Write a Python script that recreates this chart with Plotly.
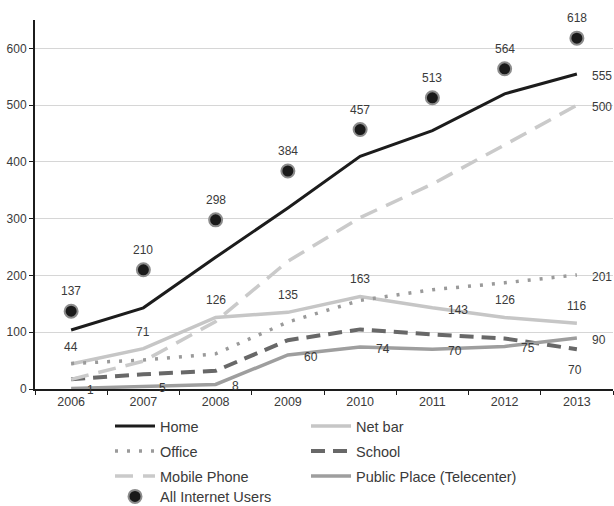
import plotly.graph_objects as go

# ---------------- data ----------------
years = ["2006", "2007", "2008", "2009", "2010", "2011", "2012", "2013"]
home = [104, 143, 232, 319, 410, 455, 520, 555]
net_bar = [44, 71, 126, 135, 163, 143, 126, 116]
office = [45, 51, 62, 118, 156, 175, 187, 201]
school = [17, 26, 32, 86, 105, 96, 89, 70]
mobile_phone = [17, 49, 119, 225, 302, 361, 430, 500]
public_place = [1, 5, 8, 60, 74, 70, 75, 90]
all_users = [137, 210, 298, 384, 457, 513, 564, 618]
y_ticks = [0, 100, 200, 300, 400, 500, 600]

FONT = "Liberation Sans, Arial, sans-serif"
TXT = "#3a3a3a"

fig = go.Figure()

def add_line(name, values, color, width, dash, legend, left_col):
    kw = dict(legendwidth=141) if left_col else {}
    fig.add_trace(go.Scatter(
        x=years, y=values, name=name, mode="lines",
        line=dict(color=color, width=width, dash=dash),
        legend=legend, hoverinfo="skip", **kw))

add_line("Home", home, "#1c1c1c", 3, "solid", "legend", True)
add_line("Net bar", net_bar, "#c6c6c6", 3.5, "solid", "legend", False)
add_line("Office", office, "#9a9a9a", 3.5, "3px,9px", "legend2", True)
add_line("School", school, "#686868", 4, "14px,8px", "legend2", False)
add_line("Mobile Phone", mobile_phone, "#cacaca", 3.5, "18px,10px", "legend3", True)
add_line("Public Place (Telecenter)", public_place, "#9e9e9e", 3.5, "solid", "legend3", False)

fig.add_trace(go.Scatter(
    x=years, y=all_users, name="All Internet Users", mode="markers",
    marker=dict(color="#1a1a1a", size=13, line=dict(color="#8c8c8c", width=2)),
    legend="legend4", hoverinfo="skip"))

# ---------------- data labels ----------------
def label(series, i, kind):
    v = series[i]
    kw = dict(x=i, y=v, text=str(v), showarrow=False,
              font=dict(family=FONT, size=12, color=TXT))
    if kind == "top":
        kw.update(yshift=20, xanchor="center", yanchor="middle")
    elif kind == "top_low":
        kw.update(yshift=17, xanchor="center", yanchor="middle")
    elif kind == "right":
        kw.update(xshift=14, yshift=-2, xanchor="left", yanchor="middle")
    elif kind == "right_end":
        kw.update(xshift=13, yshift=-2, xanchor="left", yanchor="middle")
    elif kind == "below":
        kw.update(yshift=-21, xshift=-2, xanchor="center", yanchor="middle")
    fig.add_annotation(**kw)

last = len(years) - 1
for i in range(len(years)):
    label(all_users, i, "top")
    label(public_place, i, "right_end" if i == last else "right")
    label(net_bar, i, "right" if years[i] == "2011" else "top_low")
label(home, last, "right_end")
label(mobile_phone, last, "right_end")
label(office, last, "right_end")
label(school, last, "below")

# ---------------- layout ----------------
W, H = 614, 506

def lx(px):
    return px / W

def ly(py):
    return (H - py) / H

leg_common = dict(orientation="h", xanchor="left", yanchor="middle",
                  xref="container", yref="container",
                  itemwidth=40, bgcolor="rgba(0,0,0,0)",
                  font=dict(family=FONT, size=14.5, color=TXT), itemclick=False)

fig.update_layout(
    width=W, height=H,
    margin=dict(l=35, r=1, t=20, b=115),
    paper_bgcolor="white", plot_bgcolor="white",
    font=dict(family=FONT, color=TXT),
    legend=dict(x=lx(110), y=ly(426), **leg_common),
    legend2=dict(x=lx(110), y=ly(451), **leg_common),
    legend3=dict(x=lx(110), y=ly(476), **leg_common),
    legend4=dict(x=lx(110), y=ly(496.5), **leg_common),
    xaxis=dict(type="category", range=[-0.5, 7.5], showgrid=False,
               showline=True, linecolor="#1c1c1c", linewidth=2,
               ticks="outside", tickson="boundaries", ticklen=4,
               tickcolor="#1c1c1c", tickwidth=1,
               tickfont=dict(family=FONT, size=12.5, color=TXT),
               zeroline=False),
    yaxis=dict(range=[0, 650], tickvals=y_ticks, showgrid=True,
               gridcolor="#d6d6d6", gridwidth=1,
               showline=True, linecolor="#1c1c1c", linewidth=2,
               ticks="outside", ticklen=4, tickcolor="#1c1c1c",
               tickfont=dict(family=FONT, size=12, color=TXT),
               zeroline=False),
)

fig.write_html("out.html")
